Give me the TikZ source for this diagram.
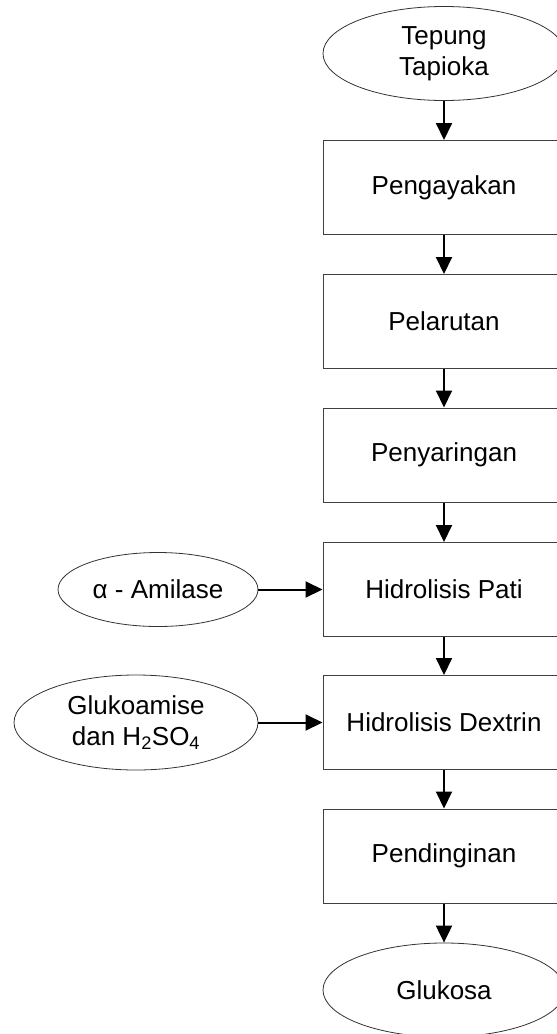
\documentclass[tikz,border=0pt]{standalone}
\usepackage{fontspec}
\setmainfont{Liberation Sans}
\usetikzlibrary{shapes.geometric,arrows.meta}

\tikzset{
  every node/.style={font=\fontsize{26}{31}\selectfont, align=center, inner sep=0pt},
  stepbox/.style={draw=black!75, line width=1pt, rectangle, minimum width=242pt, minimum height=94pt},
  terminal/.style={draw=black!80, line width=0.8pt, ellipse, minimum width=242pt, minimum height=94pt},
  flow/.style={line width=2pt, -{Triangle[length=17pt,width=16pt]}}
}

\begin{document}
\begin{tikzpicture}[x=1pt, y=-1pt]
  \useasboundingbox (0,0) rectangle (557,1034);
  \clip (0,0) rectangle (557,1034);

  % main column
  \node[terminal] (src) at (444,53.5) {Tepung\\Tapioka};
  \node[stepbox] (s1) at (444,187.5) {Pengayakan};
  \node[stepbox] (s2) at (444,321.5) {Pelarutan};
  \node[stepbox] (s3) at (444,455) {Penyaringan};
  \node[stepbox] (s4) at (444,589.5) {Hidrolisis Pati};
  \node[stepbox] (s5) at (444,722.5) {Hidrolisis Dextrin};
  \node[stepbox] (s6) at (444,856) {Pendinginan};
  \node[terminal] (out) at (444,990) {Glukosa};

  % additives
  \node[terminal, minimum width=200pt, minimum height=74pt] (amy) at (158,589.5) {α - Amilase};
  \node[terminal, minimum width=244pt, minimum height=95pt] (glu) at (136,722.5) {Glukoamise\\dan H\textsubscript{2}SO\textsubscript{4}};

  % connectors
  \draw[flow] (src) -- (s1);
  \draw[flow] (s1) -- (s2);
  \draw[flow] (s2) -- (s3);
  \draw[flow] (s3) -- (s4);
  \draw[flow] (s4) -- (s5);
  \draw[flow] (s5) -- (s6);
  \draw[flow] (s6) -- (out);
  \draw[flow] (amy) -- (s4);
  \draw[flow] (glu) -- (s5);
\end{tikzpicture}
\end{document}
